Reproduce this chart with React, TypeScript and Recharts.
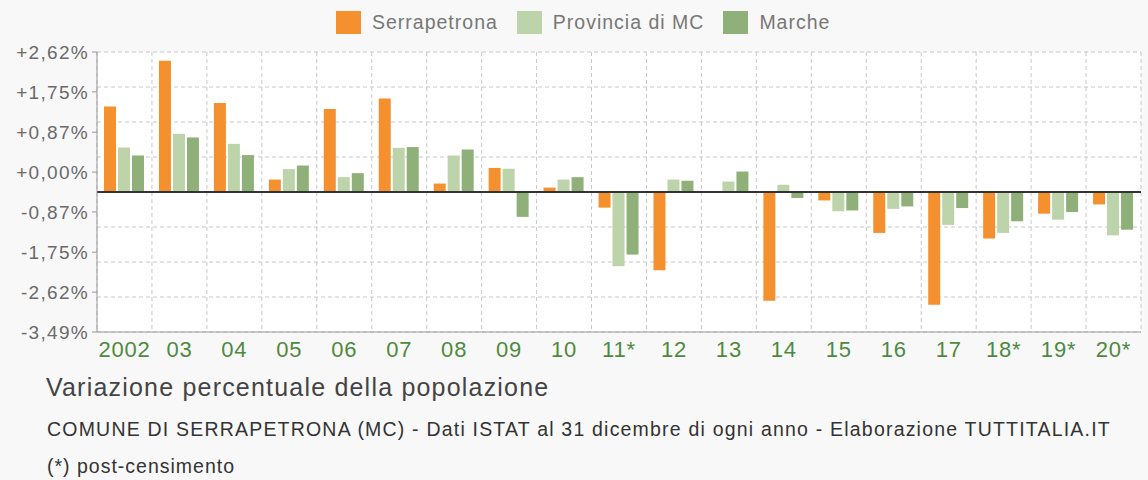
import React from 'react';
import { BarChart, Bar, XAxis, YAxis, CartesianGrid, ReferenceLine } from 'recharts';

const anni = ['2002', '03', '04', '05', '06', '07', '08', '09', '10', '11*', '12', '13', '14', '15', '16', '17', '18*', '19*', '20*'];
const serrapetrona = [2.13, 3.27, 2.22, 0.31, 2.07, 2.33, 0.21, 0.6, 0.11, -0.39, -1.95, 0, -2.71, -0.21, -1.02, -2.81, -1.16, -0.54, -0.31];
const provinciaMC = [1.11, 1.45, 1.2, 0.57, 0.37, 1.1, 0.91, 0.58, 0.31, -1.85, 0.31, 0.26, 0.18, -0.48, -0.42, -0.82, -1.02, -0.69, -1.08];
const marche = [0.91, 1.36, 0.92, 0.66, 0.47, 1.12, 1.06, -0.62, 0.37, -1.56, 0.28, 0.51, -0.15, -0.46, -0.36, -0.4, -0.73, -0.5, -0.94];

const etichetteY = [2.62, 1.75, 0.87, 0, -0.87, -1.75, -2.62, -3.49];
const griglia = [3.49, 2.6175, 1.745, 0.8725, 0, -0.8725, -1.745, -2.6175, -3.49];

const serie = [
  { key: 'serrapetrona', name: 'Serrapetrona', color: '#f5902f' },
  { key: 'provincia', name: 'Provincia di MC', color: '#bdd3a9' },
  { key: 'marche', name: 'Marche', color: '#8fb078' },
];

const data = anni.map((anno, i) => ({
  anno,
  idx: i,
  serrapetrona: serrapetrona[i],
  provincia: provinciaMC[i],
  marche: marche[i],
}));

const fmt = (v: number) => (v < 0 ? '-' : '+') + Math.abs(v).toFixed(2).replace('.', ',') + '%';

const font = '"Liberation Sans", Arial, sans-serif';

export default function App() {
  return (
    <div style={{ position: 'absolute', left: 0, top: 0, width: 1148, height: 480, background: '#f8f8f8', fontFamily: font }}>
      {/* legenda */}
      <div style={{ position: 'absolute', top: 10, left: 336, display: 'flex', alignItems: 'center', height: 24 }}>
        {serie.map((s) => (
          <div key={s.key} style={{ display: 'flex', alignItems: 'center', marginRight: 19 }}>
            <span style={{ width: 25, height: 23, background: s.color, display: 'inline-block', marginRight: 11 }} />
            <span style={{ fontSize: 19.5, letterSpacing: 1, color: '#777' }}>{s.name}</span>
          </div>
        ))}
      </div>

      <div style={{ position: 'absolute', left: 0, top: 0 }}>
        <BarChart
          width={1148}
          height={370}
          data={data}
          margin={{ top: 52, right: 7, bottom: 8, left: 0 }}
          barSize={12}
          barGap={2}
        >
          <CartesianGrid
            xAxisId="griglia"
            yAxisId="v"
            stroke="#c8c8c8"
            strokeDasharray="4 3"
            fill="#ffffff"
          />
          <XAxis
            dataKey="anno"
            interval={0}
            axisLine={{ stroke: '#999' }}
            tickLine={false}
            tick={{ fill: '#4e8a3e', fontSize: 22, letterSpacing: 0.8, fontFamily: font }}
            tickMargin={3}
          />
          <XAxis
            xAxisId="griglia"
            type="number"
            dataKey="idx"
            domain={[0, anni.length]}
            ticks={anni.map((_, i) => i).concat(anni.length)}
            allowDataOverflow
            hide
          />
          <YAxis
            yAxisId="lbl"
            type="number"
            domain={[-3.49, 2.62]}
            ticks={etichetteY}
            allowDataOverflow
            width={97}
            tickFormatter={fmt}
            axisLine={{ stroke: '#999' }}
            tickLine={{ stroke: '#999' }}
            tickSize={5}
            tickMargin={3}
            tick={{ fill: '#6a6a6a', fontSize: 19, letterSpacing: 1.3, fontFamily: font }}
          />
          <YAxis yAxisId="v" type="number" domain={[-3.49, 3.49]} ticks={griglia} allowDataOverflow hide />
          {serie.map((s) => (
            <Bar key={s.key} yAxisId="v" dataKey={s.key} name={s.name} fill={s.color} isAnimationActive={false} />
          ))}
          <ReferenceLine yAxisId="v" y={0} stroke="#333" strokeWidth={2} />
        </BarChart>
      </div>

      <div style={{ position: 'absolute', left: 46, top: 373, fontSize: 25, letterSpacing: 1.2, color: '#444' }}>
        Variazione percentuale della popolazione
      </div>
      <div style={{ position: 'absolute', left: 47, top: 418, fontSize: 19.5, letterSpacing: 1.2, color: '#333' }}>
        COMUNE DI SERRAPETRONA (MC) - Dati ISTAT al 31 dicembre di ogni anno - Elaborazione TUTTITALIA.IT
      </div>
      <div style={{ position: 'absolute', left: 47, top: 455, fontSize: 19.5, letterSpacing: 1, color: '#333' }}>
        (*) post-censimento
      </div>
    </div>
  );
}
